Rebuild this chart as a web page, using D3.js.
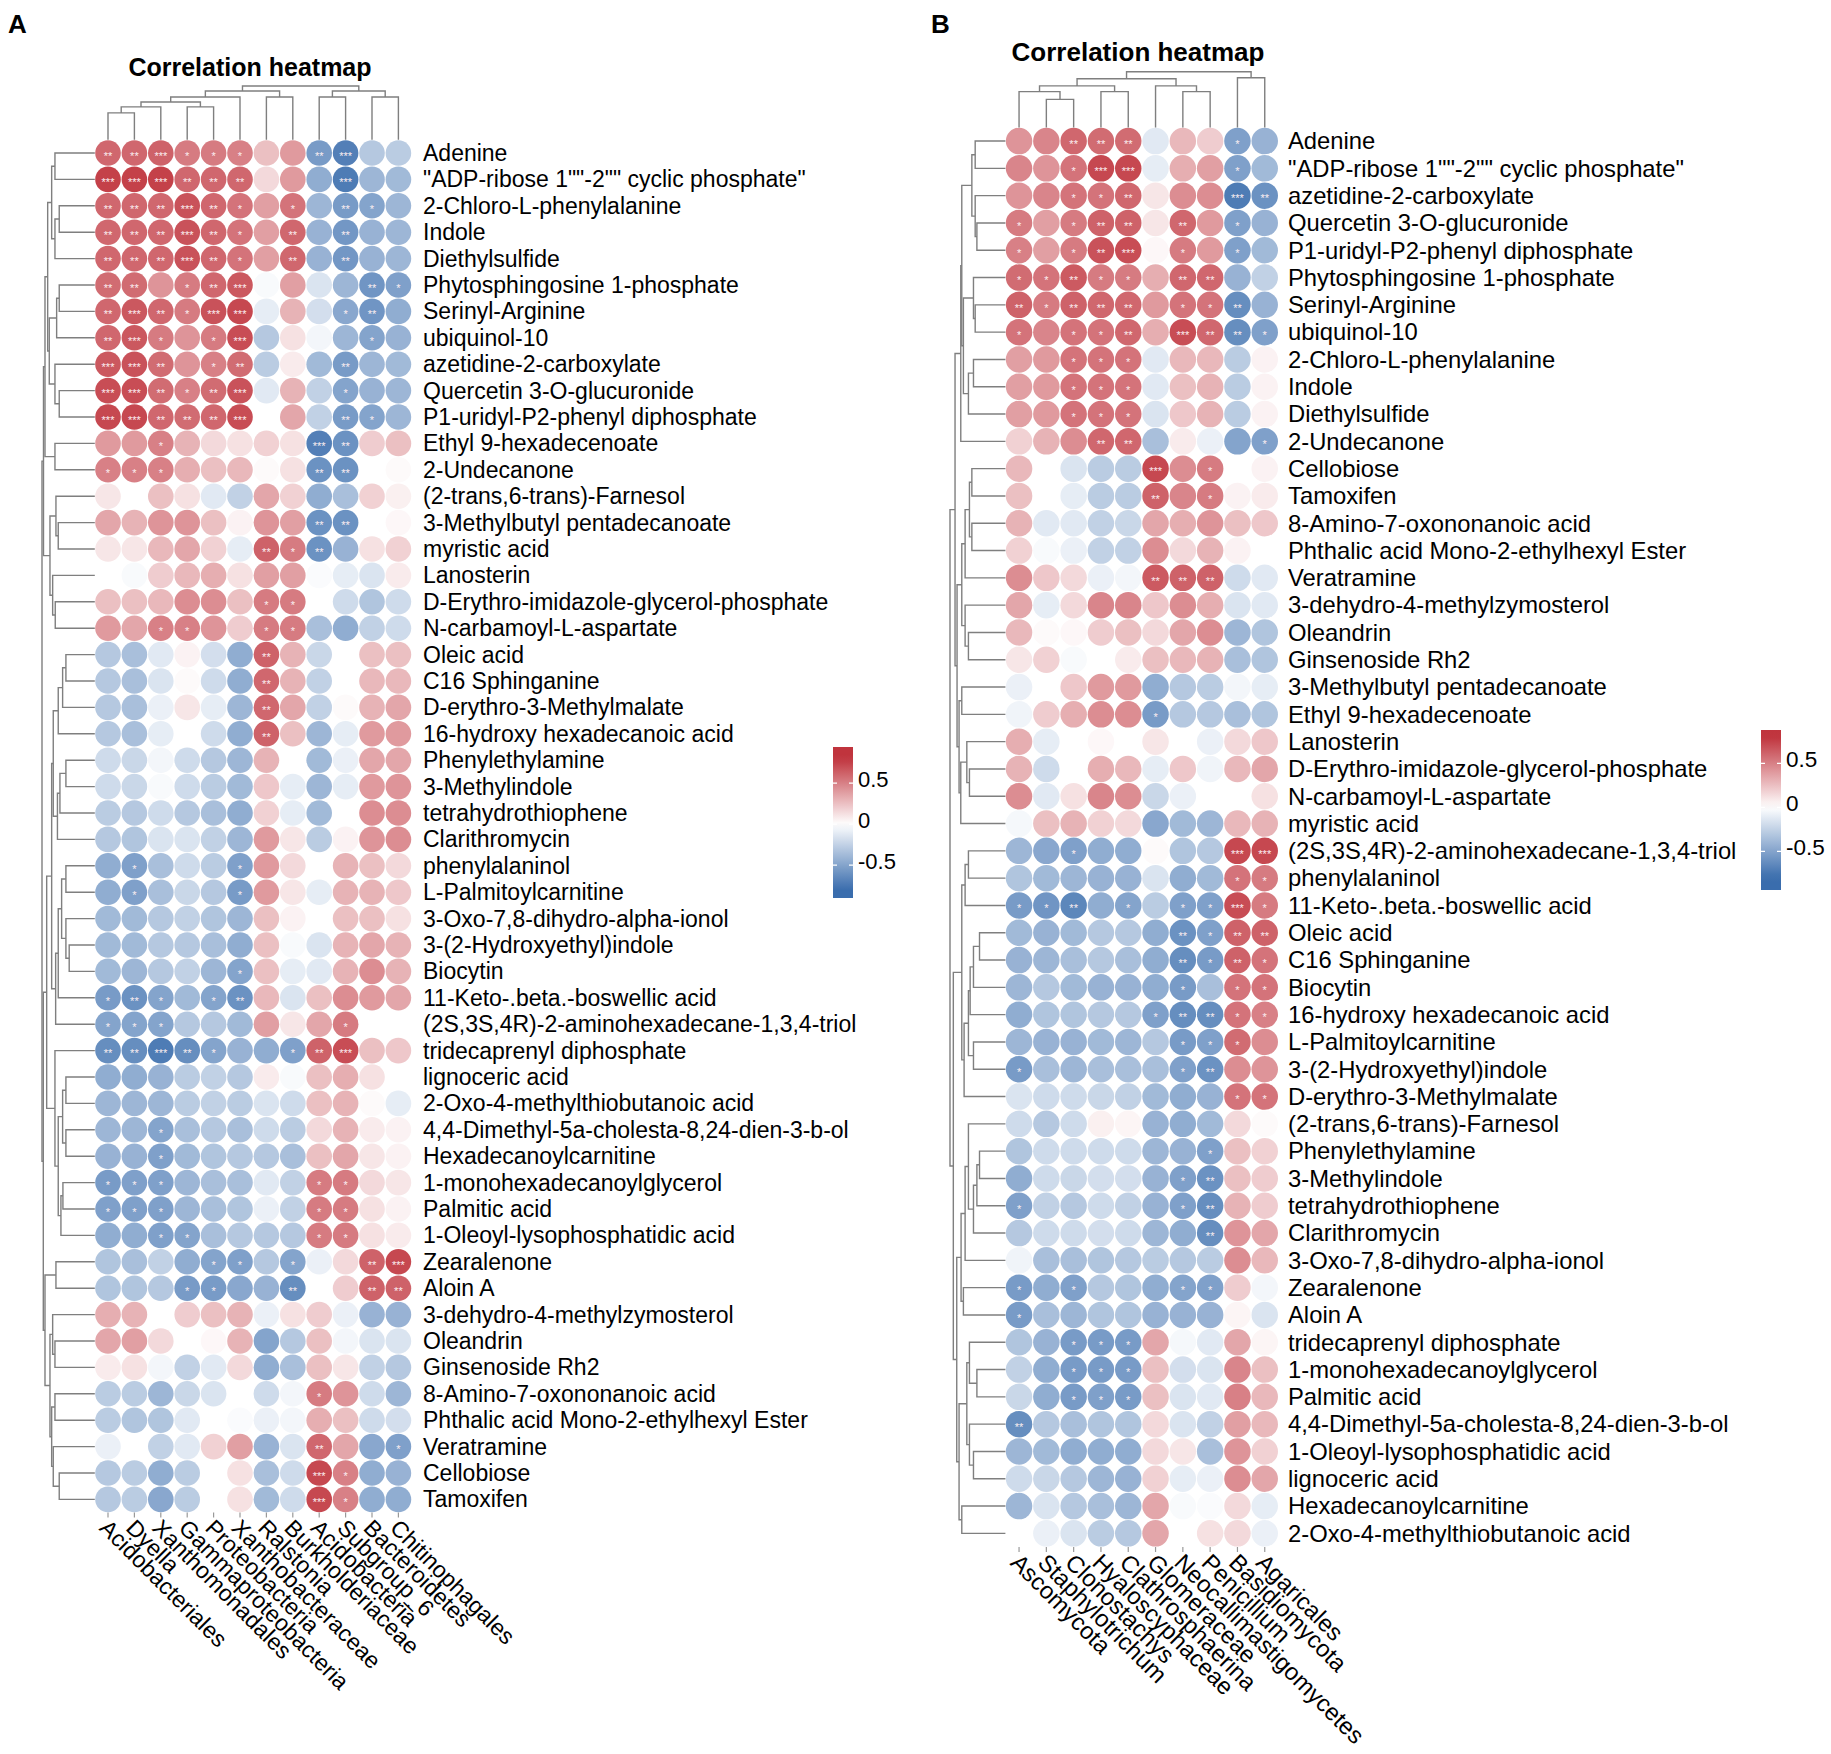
<!DOCTYPE html>
<html>
<head>
<meta charset="utf-8">
<script src="https://cdn.jsdelivr.net/npm/d3@7"></script>
<style>
  body { margin: 0; background: #fff; }
  svg { display: block; }
  text { font-family: "Liberation Sans", Arial, Helvetica, sans-serif; fill: #000; }
</style>
</head>
<body>
<svg id="chart" width="1831" height="1754"></svg>
<script>
// ---------- Panel A data ----------
var colsA = ["Acidobacteriales", "Dyella", "Xanthomonadales", "Gammaproteobacteria", "Proteobacteria",
  "Xanthobacteraceae", "Ralstonia", "Burkholderiaceae", "Acidobacteria", "Subgroup_6", "Bacteroidetes", "Chitinophagales"];

var rowsA = ["Adenine", "\"ADP-ribose 1\"\"-2\"\" cyclic phosphate\"", "2-Chloro-L-phenylalanine", "Indole", "Diethylsulfide",
  "Phytosphingosine 1-phosphate", "Serinyl-Arginine", "ubiquinol-10", "azetidine-2-carboxylate", "Quercetin 3-O-glucuronide",
  "P1-uridyl-P2-phenyl diphosphate", "Ethyl 9-hexadecenoate", "2-Undecanone", "(2-trans,6-trans)-Farnesol",
  "3-Methylbutyl pentadecanoate", "myristic acid", "Lanosterin", "D-Erythro-imidazole-glycerol-phosphate",
  "N-carbamoyl-L-aspartate", "Oleic acid", "C16 Sphinganine", "D-erythro-3-Methylmalate", "16-hydroxy hexadecanoic acid",
  "Phenylethylamine", "3-Methylindole", "tetrahydrothiophene", "Clarithromycin", "phenylalaninol", "L-Palmitoylcarnitine",
  "3-Oxo-7,8-dihydro-alpha-ionol", "3-(2-Hydroxyethyl)indole", "Biocytin", "11-Keto-.beta.-boswellic acid",
  "(2S,3S,4R)-2-aminohexadecane-1,3,4-triol", "tridecaprenyl diphosphate", "lignoceric acid",
  "2-Oxo-4-methylthiobutanoic acid", "4,4-Dimethyl-5a-cholesta-8,24-dien-3-b-ol", "Hexadecanoylcarnitine",
  "1-monohexadecanoylglycerol", "Palmitic acid", "1-Oleoyl-lysophosphatidic acid", "Zearalenone", "Aloin A",
  "3-dehydro-4-methylzymosterol", "Oleandrin", "Ginsenoside Rh2", "8-Amino-7-oxononanoic acid",
  "Phthalic acid Mono-2-ethylhexyl Ester", "Veratramine", "Cellobiose", "Tamoxifen"];

var valsA = [
  [0.6,0.6,0.62,0.52,0.52,0.5,0.25,0.4,-0.55,-0.7,-0.3,-0.28],
  [0.75,0.75,0.75,0.6,0.6,0.6,0.15,0.4,-0.45,-0.72,-0.4,-0.38],
  [0.6,0.6,0.6,0.68,0.6,0.55,0.38,0.55,-0.4,-0.55,-0.5,-0.4],
  [0.6,0.6,0.6,0.68,0.6,0.55,0.38,0.6,-0.42,-0.57,-0.42,-0.4],
  [0.6,0.6,0.6,0.68,0.6,0.55,0.38,0.6,-0.42,-0.57,-0.42,-0.4],
  [0.58,0.58,0.42,0.52,0.6,0.66,-0.03,0.38,-0.15,-0.4,-0.58,-0.52],
  [0.6,0.66,0.6,0.52,0.68,0.72,-0.1,0.3,-0.18,-0.48,-0.58,-0.45],
  [0.6,0.66,0.52,0.42,0.52,0.7,-0.3,0.12,-0.05,-0.4,-0.5,-0.42],
  [0.66,0.68,0.58,0.42,0.5,0.58,-0.28,0.08,-0.38,-0.55,-0.4,-0.38],
  [0.7,0.7,0.58,0.5,0.58,0.68,-0.12,0.3,-0.25,-0.5,-0.42,-0.4],
  [0.72,0.72,0.6,0.58,0.6,0.7,0,0.35,-0.25,-0.55,-0.5,-0.4],
  [0.4,0.4,0.5,0.3,0.15,0.12,0.18,0.12,-0.7,-0.6,0.2,0.25],
  [0.5,0.5,0.5,0.32,0.25,0.28,0.02,0.12,-0.6,-0.6,0,0.02],
  [0.1,0,0.25,0.12,-0.12,-0.25,0.35,0.18,-0.45,-0.35,0.18,0.06],
  [0.35,0.3,0.42,0.42,0.25,0.05,0.42,0.38,-0.6,-0.6,0,0.03],
  [0.1,0.1,0.28,0.35,0.18,-0.1,0.62,0.52,-0.6,-0.42,0.12,0.18],
  [0,-0.03,0.2,0.28,0.32,0.12,0.38,0.38,-0.02,-0.1,-0.15,0.08],
  [0.25,0.25,0.28,0.45,0.45,0.25,0.52,0.52,0,-0.2,-0.32,-0.2],
  [0.4,0.35,0.5,0.5,0.42,0.2,0.52,0.52,-0.35,-0.45,-0.25,-0.2],
  [-0.3,-0.35,-0.12,0.05,-0.18,-0.45,0.62,0.3,-0.22,0,0.25,0.25],
  [-0.3,-0.35,-0.15,0.02,-0.2,-0.45,0.6,0.3,-0.25,0,0.28,0.28],
  [-0.3,-0.35,-0.08,0.1,-0.1,-0.4,0.6,0.35,-0.25,0.02,0.3,0.35],
  [-0.3,-0.35,-0.1,0,-0.2,-0.45,0.62,0.25,-0.4,-0.1,0.4,0.4],
  [-0.2,-0.22,-0.05,-0.2,-0.3,-0.4,0.3,0,-0.38,-0.08,0.35,0.35],
  [-0.2,-0.22,-0.03,-0.2,-0.28,-0.38,0.22,-0.1,-0.4,-0.1,0.4,0.42],
  [-0.28,-0.3,-0.2,-0.3,-0.35,-0.45,0.18,-0.1,-0.38,0,0.45,0.45],
  [-0.3,-0.32,-0.15,-0.15,-0.25,-0.4,0.4,0.1,-0.28,0.05,0.42,0.45],
  [-0.45,-0.52,-0.35,-0.2,-0.28,-0.52,0.4,0.15,0,0.3,0.25,0.15],
  [-0.45,-0.52,-0.35,-0.22,-0.3,-0.55,0.4,0.1,-0.1,0.3,0.3,0.22],
  [-0.38,-0.38,-0.3,-0.25,-0.32,-0.4,0.25,0.05,0,0.25,0.25,0.12],
  [-0.38,-0.38,-0.3,-0.3,-0.35,-0.45,0.25,-0.03,-0.15,0.3,0.35,0.3],
  [-0.38,-0.4,-0.3,-0.25,-0.4,-0.5,0.25,-0.1,-0.12,0.3,0.45,0.3],
  [-0.55,-0.6,-0.5,-0.38,-0.5,-0.6,0.28,-0.15,0.25,0.45,0.4,0.35],
  [-0.5,-0.5,-0.5,-0.3,-0.3,-0.38,0.38,0.1,0.35,0.52,0,0],
  [-0.62,-0.62,-0.72,-0.62,-0.5,-0.42,-0.45,-0.52,0.62,0.7,0.25,0.22],
  [-0.45,-0.45,-0.42,-0.28,-0.25,-0.3,0.08,-0.03,0.25,0.32,0.12,0],
  [-0.4,-0.4,-0.4,-0.28,-0.25,-0.28,-0.15,-0.2,0.25,0.3,0.02,-0.1],
  [-0.4,-0.4,-0.5,-0.35,-0.3,-0.35,-0.2,-0.28,0.15,0.3,0.08,0.05],
  [-0.42,-0.42,-0.52,-0.38,-0.32,-0.3,-0.3,-0.35,0.25,0.35,0.1,0.05],
  [-0.55,-0.52,-0.52,-0.4,-0.35,-0.35,-0.12,-0.25,0.52,0.52,0.15,0.1],
  [-0.52,-0.52,-0.52,-0.4,-0.35,-0.32,-0.08,-0.25,0.52,0.52,0.12,0.05],
  [-0.45,-0.45,-0.52,-0.5,-0.35,-0.3,-0.3,-0.3,0.52,0.52,0.12,0.08],
  [-0.32,-0.35,-0.25,-0.45,-0.5,-0.52,-0.3,-0.5,-0.08,0.15,0.62,0.72],
  [-0.32,-0.32,-0.3,-0.55,-0.55,-0.48,-0.42,-0.62,0,0.2,0.62,0.62],
  [0.32,0.3,0,0.2,0.25,0.3,-0.08,0.12,0.2,-0.08,-0.42,-0.42],
  [0.35,0.38,0.15,0,0.03,0.3,-0.5,-0.3,0.25,-0.05,-0.15,-0.15],
  [0.08,0.12,-0.05,-0.25,-0.12,0.15,-0.45,-0.35,0.25,0.1,-0.25,-0.3],
  [-0.28,-0.28,-0.4,-0.22,-0.15,0,-0.2,-0.05,0.52,0.42,-0.2,-0.4],
  [-0.28,-0.32,-0.32,-0.12,0,-0.02,-0.08,-0.05,0.32,0.25,-0.2,-0.18],
  [-0.08,0,-0.25,-0.12,0.18,0.38,-0.42,-0.15,0.6,0.35,-0.48,-0.52],
  [-0.3,-0.28,-0.45,-0.28,0,0.12,-0.35,-0.2,0.72,0.5,-0.45,-0.42],
  [-0.3,-0.28,-0.48,-0.28,0,0.12,-0.38,-0.2,0.72,0.5,-0.45,-0.45]
];

// significance level per cell (number of asterisks)
var starsA = ["223111002300","333222000300","222321010210","222321020200","222321020200","220123000021",
  "232133000120","231013000010","332012000200","332123000100","332223000210","001000003200","111000002200",
  "000000000000","000000002200","000000212000","000000000000","000000110000","001100110000","000000200000",
  "000000200000","000000200000","000000200000","000000000000","000000000000","000000000000","000000000000",
  "010001000000","010001000000","000000000000","000000000000","000001000000","121012000000","111000000100",
  "223210012300","000000000000","000000000000","001000000000","001000000000","111000001100","111000001100",
  "001100001100","000011010023","000110020022","000000000000","000000000000","000000000000","000000001000",
  "000000000000","000000002001","000000003100","000000003100"];

// dendrograms: [height, left, right], leaves are row / column indices
var rowTreeA = [53,
  [51.5,
    [50, [47.3, [43.3, [40, 0, 1], [40, [35.7, 2, 3], 4]], [45.7, [38.3, [35.7, 5, 6], 7], [40, 8, [35.7, 9, 10]]]], [40, 11, 12]],
    [45, [39, 13, [36.7, 14, 15]], [42.3, 16, [39.7, 17, 18]]]],
  [51.7,
    [48.3,
      [43.3,
        [41.7, [36.7, [32.3, [29, 19, 20], 21], 22], [37.5, [35, [29, 23, 24], 25], 26]],
        [39.3, [36.7, [33.3, [29, 27, 28], [29, 29, [25.7, 30, 31]]], 32], 33]],
      [40, 34, [36.7, [32.3, [29, 35, 36], [29, 37, 38]], [34, [32, 39, 40], 41]]]],
    [50, [39, 42, 43],
      [45, [42.3, 44, [40, 45, 46]], [43.3, [40, 47, 48], [41.7, 49, [35.7, 50, 51]]]]]]];

var colTreeA = [54,
  [49, [43, [38, [33, [27, 0, 1], 2], [33, 3, 4]], 5], [43, 6, 7]],
  [49, [43, 8, 9], [43, 10, 11]]];

// ---------- Panel B data ----------
var colsB = ["Ascomycota", "Staphylotrichum", "Clonostachys", "Hyaloscyphaceae", "Clathrosphaerina",
  "Glomeraceae", "Neocallimastigomycetes", "Penicillium", "Basidiomycota", "Agaricales"];

var rowsB = ["Adenine", "\"ADP-ribose 1\"\"-2\"\" cyclic phosphate\"", "azetidine-2-carboxylate", "Quercetin 3-O-glucuronide",
  "P1-uridyl-P2-phenyl diphosphate", "Phytosphingosine 1-phosphate", "Serinyl-Arginine", "ubiquinol-10",
  "2-Chloro-L-phenylalanine", "Indole", "Diethylsulfide", "2-Undecanone", "Cellobiose", "Tamoxifen",
  "8-Amino-7-oxononanoic acid", "Phthalic acid Mono-2-ethylhexyl Ester", "Veratramine", "3-dehydro-4-methylzymosterol",
  "Oleandrin", "Ginsenoside Rh2", "3-Methylbutyl pentadecanoate", "Ethyl 9-hexadecenoate", "Lanosterin",
  "D-Erythro-imidazole-glycerol-phosphate", "N-carbamoyl-L-aspartate", "myristic acid",
  "(2S,3S,4R)-2-aminohexadecane-1,3,4-triol", "phenylalaninol", "11-Keto-.beta.-boswellic acid", "Oleic acid",
  "C16 Sphinganine", "Biocytin", "16-hydroxy hexadecanoic acid", "L-Palmitoylcarnitine", "3-(2-Hydroxyethyl)indole",
  "D-erythro-3-Methylmalate", "(2-trans,6-trans)-Farnesol", "Phenylethylamine", "3-Methylindole", "tetrahydrothiophene",
  "Clarithromycin", "3-Oxo-7,8-dihydro-alpha-ionol", "Zearalenone", "Aloin A", "tridecaprenyl diphosphate",
  "1-monohexadecanoylglycerol", "Palmitic acid", "4,4-Dimethyl-5a-cholesta-8,24-dien-3-b-ol",
  "1-Oleoyl-lysophosphatidic acid", "lignoceric acid", "Hexadecanoylcarnitine", "2-Oxo-4-methylthiobutanoic acid"];

var valsB = [
  [0.42,0.48,0.6,0.58,0.58,-0.12,0.28,0.2,-0.52,-0.42],
  [0.48,0.42,0.55,0.72,0.72,-0.1,0.32,0.38,-0.52,-0.38],
  [0.42,0.48,0.55,0.55,0.6,0.1,0.45,0.45,-0.72,-0.6],
  [0.52,0.38,0.52,0.62,0.62,0.1,0.6,0.4,-0.52,-0.42],
  [0.5,0.38,0.52,0.68,0.7,0.03,0.52,0.4,-0.52,-0.38],
  [0.58,0.55,0.65,0.52,0.52,0.32,0.6,0.6,-0.42,-0.25],
  [0.62,0.52,0.62,0.6,0.6,0.4,0.55,0.55,-0.62,-0.42],
  [0.55,0.48,0.55,0.55,0.6,0.32,0.7,0.6,-0.62,-0.52],
  [0.38,0.4,0.55,0.55,0.55,-0.12,0.28,0.28,-0.28,0.05],
  [0.38,0.4,0.55,0.55,0.55,-0.12,0.25,0.3,-0.28,0.05],
  [0.38,0.4,0.55,0.55,0.55,-0.15,0.22,0.3,-0.28,0.05],
  [0.18,0.3,0.45,0.6,0.6,-0.35,0.08,-0.08,-0.5,-0.52],
  [0.28,0,-0.15,-0.28,-0.28,0.72,0.45,0.52,0,0.05],
  [0.25,0,-0.1,-0.28,-0.28,0.62,0.48,0.52,0.05,0.08],
  [0.3,-0.12,-0.12,-0.25,-0.22,0.35,0.32,0.42,0.25,0.22],
  [0.18,-0.03,-0.08,-0.25,-0.25,0.45,0.15,0.3,0.05,0],
  [0.45,0.22,0.15,-0.08,-0.05,0.65,0.62,0.62,-0.2,-0.12],
  [0.35,-0.1,0.15,0.48,0.48,0.22,0.45,0.32,-0.15,-0.12],
  [0.28,0.02,0.03,0.2,0.25,0.15,0.35,0.45,-0.4,-0.32],
  [0.1,0.18,-0.03,0,0.08,0.25,0.28,0.3,-0.35,-0.32],
  [-0.08,0,0.22,0.4,0.4,-0.45,-0.3,-0.28,-0.05,-0.1],
  [-0.06,0.2,0.32,0.45,0.45,-0.55,-0.3,-0.3,-0.35,-0.32],
  [0.32,-0.1,0,0.03,0,0.1,0,-0.08,0.15,0.22],
  [0.3,-0.2,0,0.32,0.28,-0.1,0.22,-0.06,0.28,0.35],
  [0.45,-0.12,0.12,0.48,0.45,-0.22,-0.08,0,0,0.12],
  [-0.04,0.25,0.3,0.18,0.15,-0.48,-0.38,-0.4,0.28,0.3],
  [-0.4,-0.48,-0.52,-0.45,-0.45,0.02,-0.32,-0.3,0.72,0.72],
  [-0.32,-0.38,-0.4,-0.42,-0.42,-0.15,-0.45,-0.38,0.55,0.52],
  [-0.55,-0.58,-0.66,-0.45,-0.5,-0.28,-0.52,-0.52,0.7,0.52],
  [-0.38,-0.42,-0.38,-0.3,-0.3,-0.45,-0.6,-0.52,0.62,0.62],
  [-0.42,-0.4,-0.35,-0.3,-0.35,-0.45,-0.62,-0.55,0.62,0.55],
  [-0.4,-0.3,-0.38,-0.42,-0.42,-0.45,-0.55,-0.35,0.55,0.55],
  [-0.45,-0.32,-0.32,-0.3,-0.3,-0.52,-0.62,-0.62,0.55,0.5],
  [-0.4,-0.42,-0.42,-0.38,-0.4,-0.3,-0.55,-0.52,0.58,0.45],
  [-0.55,-0.35,-0.4,-0.35,-0.35,-0.35,-0.52,-0.6,0.45,0.42],
  [-0.15,-0.2,-0.2,-0.22,-0.25,-0.38,-0.45,-0.42,0.55,0.55],
  [-0.2,-0.3,-0.2,0.06,0.04,-0.42,-0.45,-0.38,0.15,0.02],
  [-0.32,-0.2,-0.2,-0.2,-0.2,-0.4,-0.42,-0.52,0.25,0.18],
  [-0.45,-0.2,-0.22,-0.18,-0.18,-0.42,-0.52,-0.6,0.25,0.2],
  [-0.52,-0.25,-0.3,-0.2,-0.25,-0.42,-0.52,-0.62,0.3,0.2],
  [-0.3,-0.2,-0.2,-0.18,-0.2,-0.4,-0.45,-0.62,0.42,0.35],
  [-0.06,-0.35,-0.35,-0.32,-0.3,-0.28,-0.3,-0.28,0.45,0.28],
  [-0.55,-0.45,-0.52,-0.3,-0.32,-0.45,-0.5,-0.52,0.2,-0.05],
  [-0.55,-0.35,-0.4,-0.32,-0.32,-0.42,-0.42,-0.42,0.04,-0.15],
  [-0.32,-0.42,-0.55,-0.55,-0.55,0.35,-0.04,-0.12,0.35,0.04],
  [-0.25,-0.45,-0.55,-0.55,-0.55,0.25,-0.18,-0.15,0.48,0.25],
  [-0.22,-0.45,-0.55,-0.52,-0.55,0.25,-0.15,-0.12,0.5,0.28],
  [-0.62,-0.3,-0.35,-0.32,-0.32,0.15,-0.15,-0.25,0.38,0.28],
  [-0.4,-0.38,-0.45,-0.45,-0.45,0.15,0.1,-0.35,0.42,0.18],
  [-0.2,-0.22,-0.3,-0.4,-0.42,0.18,-0.1,-0.08,0.45,0.35],
  [-0.4,-0.15,-0.3,-0.35,-0.4,0.35,-0.03,-0.02,0.15,-0.1],
  [0,-0.08,-0.15,-0.28,-0.3,0.35,0,0.12,0.15,-0.08]
];

var starsB = ["0022200010","0013300010","0011200032","1012202010","1012301010","1121102200","2122201120",
  "1011203221","0011100000","0011100000","0011100000","0002200001","0000030100","0000020100","0000000000",
  "0000000000","0000022200","0000000000","0000000000","0000000000","0000000000","0000010000","0000000000",
  "0000000000","0000000000","0000000000","0010000033","0000000011","1120101131","0000002122","0000002121",
  "0000001011","0000012211","0000001110","1000001200","0000000011","0000000000","0000000100","0000001200",
  "1000001200","0000000200","0000000000","1010001100","1000000000","0011100000","0011100000","0011100000",
  "2000000000","0000000000","0000000000","0000000000","0000000000"];

var rowTreeB = [55,
  [50,
    [44.3, [43.3, [33.3, [30, 0, 1], [30, 2, [28.3, 3, 4]]], [41.7, [31.7, 5, [30, 6, 7]], [36.7, [31.7, 8, 9], 10]]], 11],
    [48,
      [43.3, [40, [35.7, [33.3, 12, 13], [33.3, 14, 15]], 16], [40, 17, [36.7, 18, 19]]],
      [46, [43.3, 20, 21], [44.3, [38.3, 22, [35.7, 23, 24]], 25]]]],
  [51.7,
    [43.3, [40, [36.7, 26, 27], 28], [41, [36.7, [35, [31.7, [25.7, 29, 30], 31], 32], [31.7, 33, 34]], 35]],
    [48.3,
      [44, [40, [36.7, 36, [31.7, [28.3, [25.7, 37, 38], 39], 40]], 41], [41.7, 42, 43]],
      [46, [38.3, [35.7, 44, [28.3, 45, 46]], [35.7, 47, [31.7, 48, 49]]], [43.3, 50, 51]]]]];

var colTreeB = [55,
  [48, [41, [35.3, 0, [27.7, 1, 2]], [35.3, 3, 4]], [41, 5, [35.3, 6, 7]]],
  [49, 8, 9]];

var legendTicks = [0.5, 0, -0.5];

// ---------- drawing ----------
var svg = d3.select("#chart");
var color = d3.scaleLinear()
    .domain([-0.8, 0, 0.8])
    .range(["#3a6dad", "#ffffff", "#c0343d"])
    .clamp(true);

function dendro(node, pos, links) {
  if (typeof node === "number") return {p: pos(node), h: 0};
  var a = dendro(node[1], pos, links),
      b = dendro(node[2], pos, links);
  links.push({a: a, b: b, h: node[0]});
  return {p: (a.p + b.p) / 2, h: node[0]};
}

function drawPanel(p) {
  var g = svg.append("g");
  var x = d3.scaleBand().domain(d3.range(p.cols.length))
      .range([p.x0, p.x0 + p.step * p.cols.length]);
  var y = d3.scaleBand().domain(d3.range(p.rows.length))
      .range([p.y0, p.y0 + p.step * p.rows.length]);
  var half = x.bandwidth() / 2;
  var yBottom = p.y0 + p.step * p.rows.length;

  var cells = [];
  p.vals.forEach(function(row, i) {
    row.forEach(function(v, j) { cells.push({i: i, j: j, v: v, s: +p.stars[i][j]}); });
  });

  g.selectAll(".cell").data(cells).enter().append("circle")
      .attr("class", "cell")
      .attr("cx", function(d) { return x(d.j) + half; })
      .attr("cy", function(d) { return y(d.i) + half; })
      .attr("r", p.step * 0.485)
      .style("fill", function(d) { return color(d.v); });

  g.selectAll(".star").data(cells.filter(function(d) { return d.s > 0; })).enter().append("text")
      .attr("class", "star")
      .attr("x", function(d) { return x(d.j) + half; })
      .attr("y", function(d) { return y(d.i) + half; })
      .attr("dy", "0.62em")
      .attr("text-anchor", "middle")
      .style("font-size", "11px")
      .style("fill", "#fbeef0")
      .text(function(d) { return "*".repeat(d.s); });

  // row labels
  g.selectAll(".rowlab").data(p.rows).enter().append("text")
      .attr("x", p.labelX)
      .attr("y", function(d, i) { return y(i) + half; })
      .attr("dy", "0.35em")
      .style("font-size", p.font + "px")
      .text(function(d) { return d; });

  // column ticks + labels
  g.selectAll(".ctick").data(p.cols).enter().append("line")
      .attr("x1", function(d, j) { return x(j) + half; })
      .attr("x2", function(d, j) { return x(j) + half; })
      .attr("y1", yBottom).attr("y2", yBottom + 5)
      .style("stroke", "#999").style("stroke-width", 1.2);
  g.selectAll(".collab").data(p.cols).enter().append("text")
      .attr("transform", function(d, j) {
        return "translate(" + (x(j) + half - 4) + "," + (yBottom + 11) + ") rotate(45)";
      })
      .attr("dy", "0.35em")
      .style("font-size", p.font + "px")
      .text(function(d) { return d; });

  // row dendrogram
  var rl = [];
  dendro(p.rowTree, function(i) { return y(i) + half; }, rl);
  var hx = d3.scaleLinear().domain([0, p.rowTree[0]]).range([p.x0, p.rowRoot]);
  g.selectAll(".rlink").data(rl).enter().append("path")
      .attr("d", function(d) {
        return "M" + hx(d.a.h) + "," + d.a.p + "H" + hx(d.h) + "V" + d.b.p + "H" + hx(d.b.h);
      })
      .style("fill", "none").style("stroke", "#7f7f7f").style("stroke-width", 1.4);

  // column dendrogram
  var cl = [];
  dendro(p.colTree, function(j) { return x(j) + half; }, cl);
  var hy = d3.scaleLinear().domain([0, p.colTree[0]]).range([p.y0, p.colRoot]);
  g.selectAll(".clink").data(cl).enter().append("path")
      .attr("d", function(d) {
        return "M" + d.a.p + "," + hy(d.a.h) + "V" + hy(d.h) + "H" + d.b.p + "V" + hy(d.b.h);
      })
      .style("fill", "none").style("stroke", "#7f7f7f").style("stroke-width", 1.4);

  // title and panel letter
  g.append("text")
      .attr("x", p.titleX).attr("y", p.titleY)
      .attr("text-anchor", "middle")
      .style("font-size", p.titleSize + "px").style("font-weight", "bold")
      .text("Correlation heatmap");
  g.append("text")
      .attr("x", p.letterX).attr("y", 33)
      .style("font-size", "26px").style("font-weight", "bold")
      .text(p.letter);

  // colour legend
  var ly = d3.scaleLinear().domain(p.legDomain).range([p.legY1, p.legY0]);
  var grad = svg.append("defs").append("linearGradient")
      .attr("id", "grad" + p.letter)
      .attr("x1", 0).attr("y1", 1).attr("x2", 0).attr("y2", 0);
  d3.range(0, 1.0001, 0.05).forEach(function(t) {
    var v = p.legDomain[0] + t * (p.legDomain[1] - p.legDomain[0]);
    grad.append("stop").attr("offset", t).attr("stop-color", color(v));
  });
  g.append("rect")
      .attr("x", p.legX).attr("y", p.legY0)
      .attr("width", 20).attr("height", p.legY1 - p.legY0)
      .style("fill", "url(#grad" + p.letter + ")");
  g.selectAll(".ltick").data(legendTicks).enter().append("path")
      .attr("d", function(d) {
        return "M" + p.legX + "," + ly(d) + "h4M" + (p.legX + 16) + "," + ly(d) + "h4";
      })
      .style("stroke", "#fff").style("stroke-width", 1.2);
  g.selectAll(".llab").data(legendTicks).enter().append("text")
      .attr("x", p.legX + 25)
      .attr("y", function(d) { return ly(d) - 4; })
      .attr("dy", "0.35em")
      .style("font-size", p.legFont + "px")
      .text(function(d) { return d; });
}

drawPanel({
  letter: "A", letterX: 8, cols: colsA, rows: rowsA, vals: valsA, stars: starsA,
  rowTree: rowTreeA, colTree: colTreeA,
  x0: 94.8, y0: 139.8, step: 26.4, rowRoot: 42, colRoot: 86,
  labelX: 423, font: 23,
  titleX: 250, titleY: 76, titleSize: 25,
  legX: 833, legY0: 747, legY1: 898, legDomain: [-0.9, 0.94], legFont: 22
});

drawPanel({
  letter: "B", letterX: 931, cols: colsB, rows: rowsB, vals: valsB, stars: starsB,
  rowTree: rowTreeB, colTree: colTreeB,
  x0: 1005.4, y0: 127.4, step: 27.3, rowRoot: 950, colRoot: 71.7,
  labelX: 1288, font: 23.8,
  titleX: 1138, titleY: 61, titleSize: 26,
  legX: 1761, legY0: 730, legY1: 890, legDomain: [-0.94, 0.88], legFont: 22.5
});
</script>
</body>
</html>
